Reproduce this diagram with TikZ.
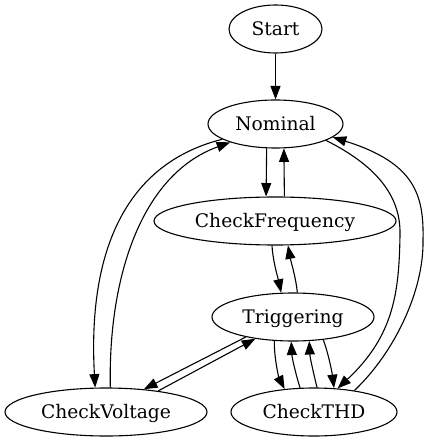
\documentclass[tikz,border=0pt]{standalone}
\usepackage{fontspec}
\setmainfont{DejaVu Serif}
\usetikzlibrary{shapes.geometric,arrows.meta}
\begin{document}
\begin{tikzpicture}[x=1pt,y=-1pt,
  st/.style={draw,ellipse,inner sep=0pt,line width=1.1pt,minimum height=48pt,
    font=\fontsize{18.67}{20}\selectfont,text height=13.4pt,text depth=0pt},
  ed/.style={draw,line width=1.1pt,-{Triangle[length=13.5pt,width=10pt]}}]
\useasboundingbox (0,0) rectangle (430,443);
\node[st,minimum width=93pt]  (Start)   at (275.5,29)  {Start};
\node[st,minimum width=135pt] (Nominal) at (275.5,124) {Nominal};
\node[st,minimum width=242pt] (CF)      at (275,221)   {CheckFrequency};
\node[st,minimum width=162pt] (Trig)    at (293,317)   {Triggering};
\node[st,minimum width=202pt] (CV)      at (106,412)   {CheckVoltage};
\node[st,minimum width=166pt] (THD)     at (314,412)   {CheckTHD};
\draw[ed] (Start) -- (Nominal);
\draw[ed] (Nominal.250.3) -- (CF.110.6);
\draw[ed] (CF.69.4) -- (Nominal.289.7);
\draw[ed] (CF.263) .. controls (273,262) and (278,278) .. (Trig.116.9);
\draw[ed] (Trig.80.5) .. controls (296,278) and (291,262) .. (CF.298.5);
\draw[ed] (Nominal.196) .. controls (120,165) and (88,260) .. (CV.114.7);
\draw[ed] (CV.80.5) .. controls (108,280) and (140,175) .. (Nominal.202);
\draw[ed] (Trig.203.9) -- (CV.31.4);
\draw[ed] (CV.22.3) -- (Trig.210.6);
\draw[ed] (Trig.232.4) .. controls (274,358) and (279,378) .. (THD.142.2);
\draw[ed] (THD.120.6) .. controls (296,375) and (292,358) .. (Trig.266.9);
\draw[ed] (THD.83.6) .. controls (314,375) and (310,358) .. (Trig.304.7);
\draw[ed] (Trig.323.6) .. controls (328,352) and (332,372) .. (THD.50.4);
\draw[ed] (Nominal.342) .. controls (375,165) and (401,195) .. (400,235)
  .. controls (399,290) and (395,335) .. (THD.45.1);
\draw[ed] (THD.28.2) .. controls (395,352) and (424,290) .. (423,240)
  .. controls (424,195) and (415,163) .. (Nominal.347.6);
\end{tikzpicture}
\end{document}
